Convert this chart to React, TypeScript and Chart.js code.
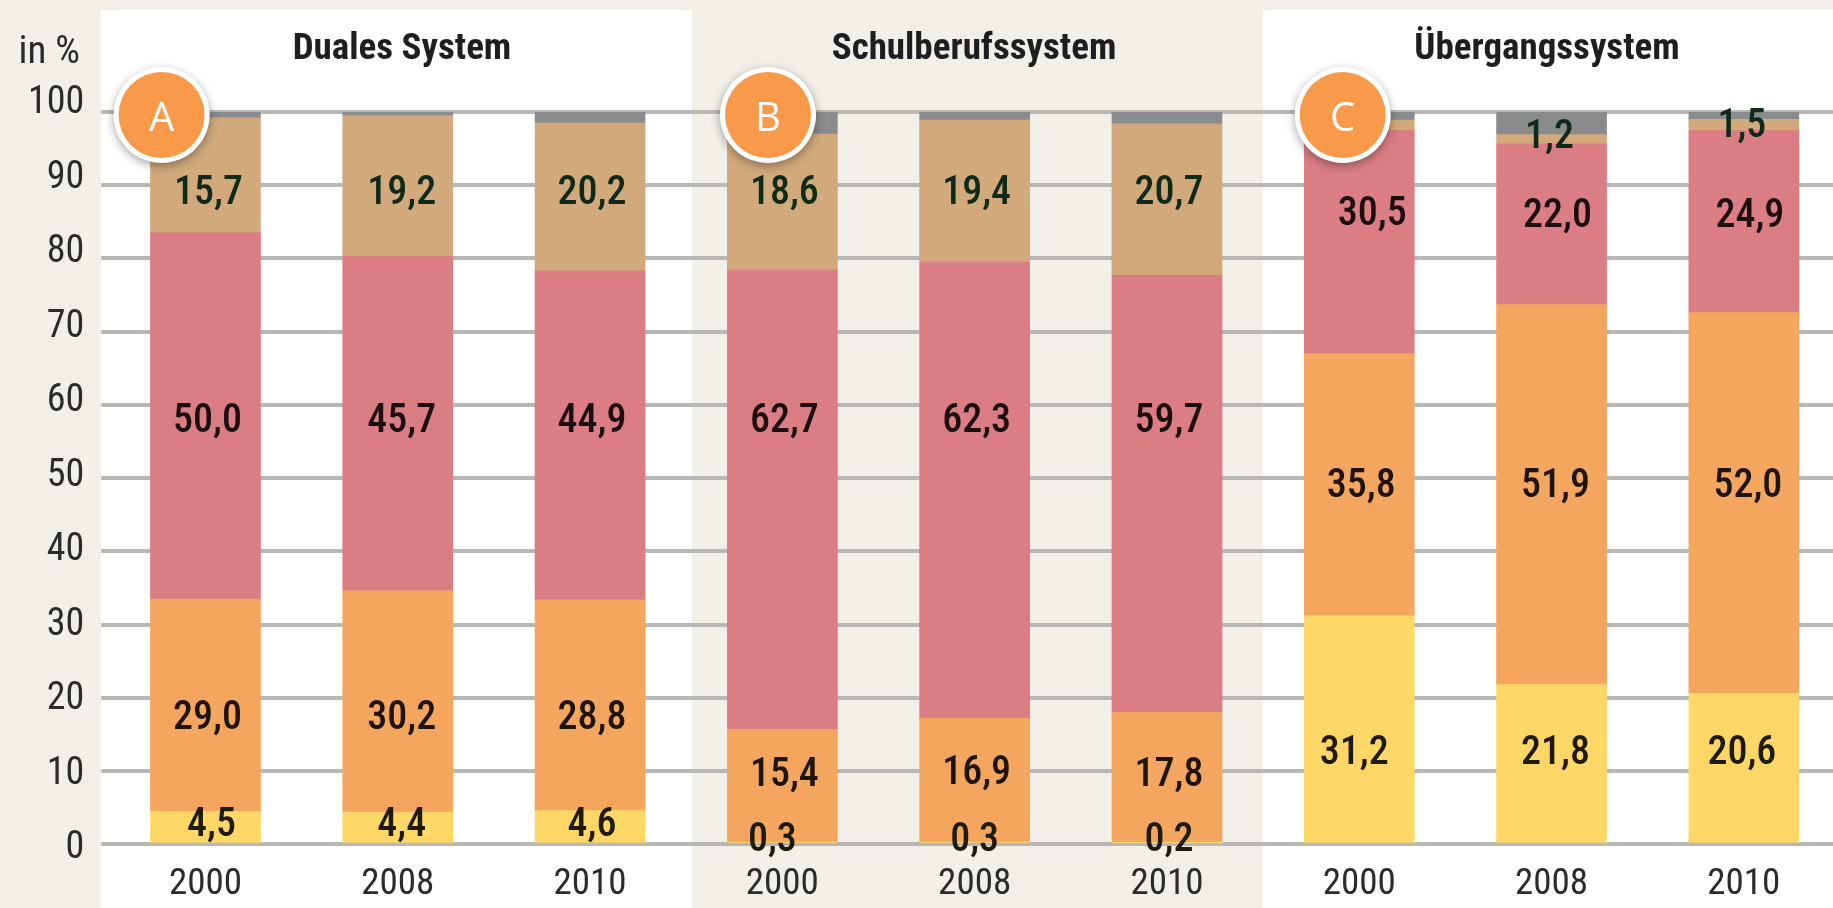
import React, { useEffect, useRef } from "react";
import { Chart, registerables } from "chart.js";

Chart.register(...registerables);

const years = ["2000", "2008", "2010", "2000", "2008", "2010", "2000", "2008", "2010"];
const panelTitles = ["Duales System", "Schulberufssystem", "Übergangssystem"];
const badges = ["A", "B", "C"];

const yellowValues = [4.5, 4.4, 4.6, 0.3, 0.3, 0.2, 31.2, 21.8, 20.6];
const orangeValues = [29.0, 30.2, 28.8, 15.4, 16.9, 17.8, 35.8, 51.9, 52.0];
const roseValues = [50.0, 45.7, 44.9, 62.7, 62.3, 59.7, 30.5, 22.0, 24.9];
const tanValues = [15.7, 19.2, 20.2, 18.6, 19.4, 20.7, 1.4, 1.2, 1.5];
const grayValues = [0.8, 0.5, 1.5, 3.0, 1.1, 1.6, 1.1, 3.1, 1.0];

// Height on the value axis at which each printed label sits (null: not printed).
const yellowLabelAt = [2.6, 2.6, 2.6, 0.6, 0.6, 0.6, 12.5, 12.5, 12.5];
const orangeLabelAt = [17.2, 17.2, 17.2, 9.5, 9.8, 9.5, 48.9, 48.9, 48.9];
const roseLabelAt = [57.8, 57.8, 57.8, 57.8, 57.8, 57.8, 86.1, 85.8, 85.8];
const tanLabelAt = [89, 89, 89, 89, 89, 89, null, 96.6, 98.1];

// Horizontal nudge of individual printed labels, in pixels.
const yellowLabelDx = [4, 2, 0, -12, -2, 0, -7, 2, -4];
const orangeLabelDx = [0, 2, 0, 0, 0, 0, 0, 2, 2];
const roseLabelDx = [0, 2, 0, 0, 0, 0, 11, 4, 4];
const tanLabelDx = [1, 2, 0, 0, 0, 0, 0, -4, -4];

const FAMILY = '"Roboto Condensed", "Roboto", sans-serif';
const BG = "#f2eee8";
const TEXT = "#2b2b2b";

const series = [
  { name: "yellow", data: yellowValues, color: "#ffd766", at: yellowLabelAt, dx: yellowLabelDx, ink: "#1e1a0c" },
  { name: "orange", data: orangeValues, color: "#f4a65e", at: orangeLabelAt, dx: orangeLabelDx, ink: "#1e140c" },
  { name: "rose", data: roseValues, color: "#da7e83", at: roseLabelAt, dx: roseLabelDx, ink: "#1c0c10" },
  { name: "tan", data: tanValues, color: "#d1a97a", at: tanLabelAt, dx: tanLabelDx, ink: "#0f2a18" },
  { name: "gray", data: grayValues, color: "#8a8b8d", at: null, dx: null, ink: "" },
];

const panelsPlugin = {
  id: "panels",
  beforeDraw(chart: any) {
    const { ctx, width, height } = chart;
    ctx.save();
    ctx.fillStyle = BG;
    ctx.fillRect(0, 0, width, height);
    ctx.fillStyle = "#ffffff";
    ctx.fillRect(101, 10, 591, height - 10);
    ctx.fillRect(1263, 10, width - 1263, height - 10);
    ctx.restore();
  },
  afterDraw(chart: any) {
    const { ctx } = chart;
    ctx.save();
    ctx.textBaseline = "middle";
    ctx.textAlign = "center";
    ctx.fillStyle = "#1e1e20";
    ctx.font = `bold 37px ${FAMILY}`;
    [402, 974, 1547].forEach((x, i) => ctx.fillText(panelTitles[i], x, 50));
    ctx.textAlign = "right";
    ctx.fillStyle = TEXT;
    ctx.font = `39px ${FAMILY}`;
    ctx.fillText("in %", 80, 53);

    // value labels
    ctx.textAlign = "center";
    ctx.font = `500 40px ${FAMILY}`;
    const y = chart.scales.y;
    series.forEach((s, di) => {
      if (!s.at) return;
      const meta = chart.getDatasetMeta(di);
      s.data.forEach((v, i) => {
        const at = s.at![i];
        if (at === null) return;
        ctx.fillStyle = s.ink;
        ctx.fillText(v.toFixed(1).replace(".", ","), meta.data[i].x + s.dx![i] + 2, y.getPixelForValue(at) + 1);
      });
    });

    // badges
    [161.6, 768, 1342.7].forEach((x, i) => {
      ctx.save();
      ctx.shadowColor = "rgba(0,0,0,0.35)";
      ctx.shadowBlur = 10;
      ctx.shadowOffsetY = 3;
      ctx.fillStyle = "#ffffff";
      ctx.beginPath();
      ctx.arc(x, 115, 48, 0, Math.PI * 2);
      ctx.fill();
      ctx.restore();
      ctx.fillStyle = "#f9994a";
      ctx.beginPath();
      ctx.arc(x, 115, 43, 0, Math.PI * 2);
      ctx.fill();
      ctx.fillStyle = "#ffffff";
      ctx.font = '40px "Open Sans", sans-serif';
      ctx.textAlign = "center";
      ctx.fillText(badges[i], x, 120);
    });
    ctx.restore();
  },
};

export default function App() {
  const ref = useRef<HTMLCanvasElement>(null);
  useEffect(() => {
    const chart = new Chart(ref.current!, {
      type: "bar",
      data: {
        labels: years,
        datasets: series.map((s) => ({
          label: s.name,
          data: s.data,
          backgroundColor: s.color,
          borderWidth: 0,
          barThickness: 110,
        })),
      },
      plugins: [panelsPlugin],
      options: {
        animation: false,
        responsive: false,
        devicePixelRatio: 1,
        layout: { padding: { top: 112, right: 5, left: 0, bottom: 0 } },
        plugins: { legend: { display: false }, tooltip: { enabled: false } },
        scales: {
          x: {
            stacked: true,
            grid: { display: false },
            border: { display: false },
            ticks: {
              autoSkip: false,
              maxRotation: 0,
              color: TEXT,
              padding: 10,
              font: { family: FAMILY, size: 37 },
            },
            afterFit: (s: any) => {
              s.height = 63.7;
            },
          },
          y: {
            stacked: true,
            min: 0,
            max: 100,
            grid: { color: "#b7b7b5", lineWidth: 4, tickLength: 8 },
            border: { display: false },
            ticks: {
              stepSize: 10,
              color: TEXT,
              padding: 17,
              font: { family: FAMILY, size: 38 },
            },
            afterFit: (s: any) => {
              s.width = 109.3;
            },
            afterBuildTicks: (s: any) => {
              if (s._shifted) return;
              s._shifted = true;
              const base = s._computeLabelItems;
              s._computeLabelItems = function (area: any) {
                const items = base.call(this, area);
                items.forEach((it: any, i: number) => {
                  it.options.translation[1] += 4.5 - 0.13 * this.ticks[i].value;
                });
                return items;
              };
            },
          },
        },
      },
    } as any);
    return () => chart.destroy();
  }, []);
  return (
    <div style={{ position: "fixed", inset: 0, overflow: "hidden", background: BG }}>
      <canvas ref={ref} width={1845} height={908} style={{ display: "block" }} />
    </div>
  );
}
